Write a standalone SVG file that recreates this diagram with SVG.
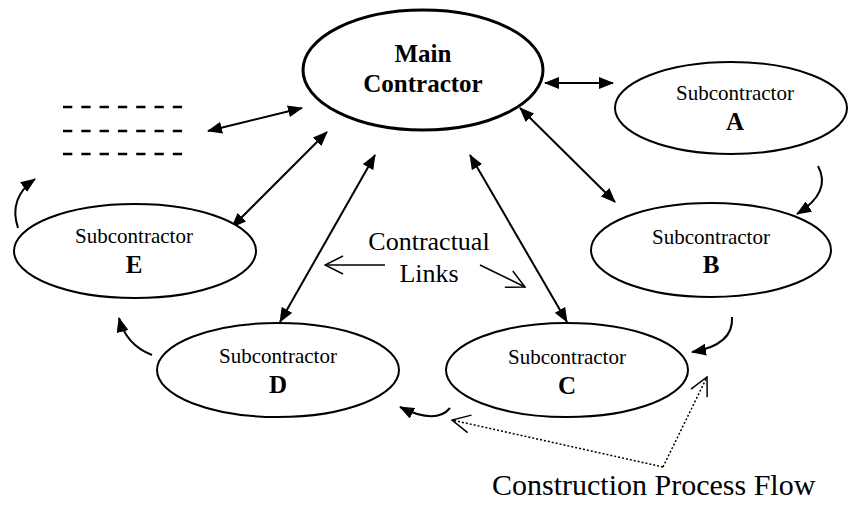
<svg xmlns="http://www.w3.org/2000/svg" width="850" height="510" viewBox="0 0 850 510">
  <style>
    .node { fill: #fff; stroke: #000; stroke-width: 2; }
    .main { stroke-width: 3; }
    .sub { font-family: "Liberation Serif", "Times New Roman", serif; font-size: 21px; text-anchor: middle; fill: #000; }
    .tag { font-family: "Liberation Serif", "Times New Roman", serif; font-size: 25px; font-weight: bold; text-anchor: middle; fill: #000; }
    .note { font-family: "Liberation Serif", "Times New Roman", serif; font-size: 26px; fill: #000; }
    .link { fill: none; stroke: #000; stroke-width: 2; marker-start: url(#head); marker-end: url(#head); }
    .flow { fill: none; stroke: #000; stroke-width: 2; marker-end: url(#head); }
    .pointer { fill: none; stroke: #000; stroke-width: 1.5; marker-end: url(#open); }
    .dotted { fill: none; stroke: #000; stroke-width: 1.5; stroke-dasharray: 2 2; marker-end: url(#open); }
    .dash { stroke: #000; stroke-width: 2.5; stroke-dasharray: 9.3 9; }
  </style>
  <defs>
    <marker id="head" viewBox="0 0 15 12" refX="14" refY="6" markerWidth="15" markerHeight="12" markerUnits="userSpaceOnUse" orient="auto-start-reverse">
      <path d="M0,0 L15,6 L0,12 z" fill="#000"/>
    </marker>
    <marker id="open" viewBox="0 0 20 20" refX="19" refY="10" markerWidth="20" markerHeight="20" markerUnits="userSpaceOnUse" orient="auto">
      <path d="M1,1 L19,10 L1,19" fill="none" stroke="#000" stroke-width="1.5"/>
    </marker>
  </defs>

  <!-- contractual links (double headed) and process flow -->
  <g id="connectors">
    <line class="link" x1="545" y1="83" x2="613" y2="83"/>
    <line class="link" x1="520" y1="108" x2="615" y2="202"/>
    <line class="link" x1="470" y1="155" x2="567" y2="322"/>
    <line class="link" x1="375" y1="155" x2="280" y2="322"/>
    <line class="link" x1="327" y1="132" x2="232" y2="227"/>
    <line class="link" x1="302" y1="108" x2="208" y2="131"/>

    <path class="flow" d="M818,166 Q832,192 797,214"/>
    <path class="flow" d="M732,317 Q734,345 692,352"/>
    <path class="flow" d="M450,408 Q436,425 400,407"/>
    <path class="flow" d="M152,355 Q126,345 119,318"/>
    <path class="flow" d="M18,228 Q8,198 35,179"/>

    <line class="pointer" x1="385" y1="265" x2="325" y2="265"/>
    <line class="pointer" x1="480" y1="265" x2="525" y2="287"/>

    <path class="dotted" d="M663,467 L452,420"/>
    <path class="dotted" d="M663,467 L707,377"/>
  </g>

  <!-- unnamed further subcontractors -->
  <g id="more">
    <line class="dash" x1="63" y1="107" x2="183" y2="107"/>
    <line class="dash" x1="63" y1="131" x2="183" y2="131"/>
    <line class="dash" x1="63" y1="154" x2="183" y2="154"/>
  </g>

  <g id="main-contractor">
    <ellipse class="node main" cx="423" cy="70" rx="120" ry="60"/>
    <text class="tag" x="423" y="62">Main</text>
    <text class="tag" x="423" y="92">Contractor</text>
  </g>

  <g id="sub-a">
    <ellipse class="node" cx="731" cy="108" rx="116" ry="46"/>
    <text class="sub" x="735" y="100">Subcontractor</text>
    <text class="tag" x="735" y="130">A</text>
  </g>

  <g id="sub-b">
    <ellipse class="node" cx="711" cy="250" rx="120" ry="47"/>
    <text class="sub" x="711" y="244">Subcontractor</text>
    <text class="tag" x="711" y="273">B</text>
  </g>

  <g id="sub-c">
    <ellipse class="node" cx="567" cy="370" rx="121" ry="47"/>
    <text class="sub" x="567" y="364">Subcontractor</text>
    <text class="tag" x="567" y="394">C</text>
  </g>

  <g id="sub-d">
    <ellipse class="node" cx="278" cy="370" rx="121" ry="47"/>
    <text class="sub" x="278" y="363">Subcontractor</text>
    <text class="tag" x="278" y="393">D</text>
  </g>

  <g id="sub-e">
    <ellipse class="node" cx="135" cy="251" rx="121" ry="47"/>
    <text class="sub" x="134" y="243">Subcontractor</text>
    <text class="tag" x="134" y="273">E</text>
  </g>

  <g id="labels">
    <text class="note" x="429" y="250" text-anchor="middle">Contractual</text>
    <text class="note" x="429" y="282" text-anchor="middle">Links</text>
    <text class="note" x="492" y="495" style="font-size:30px">Construction Process Flow</text>
  </g>
</svg>
